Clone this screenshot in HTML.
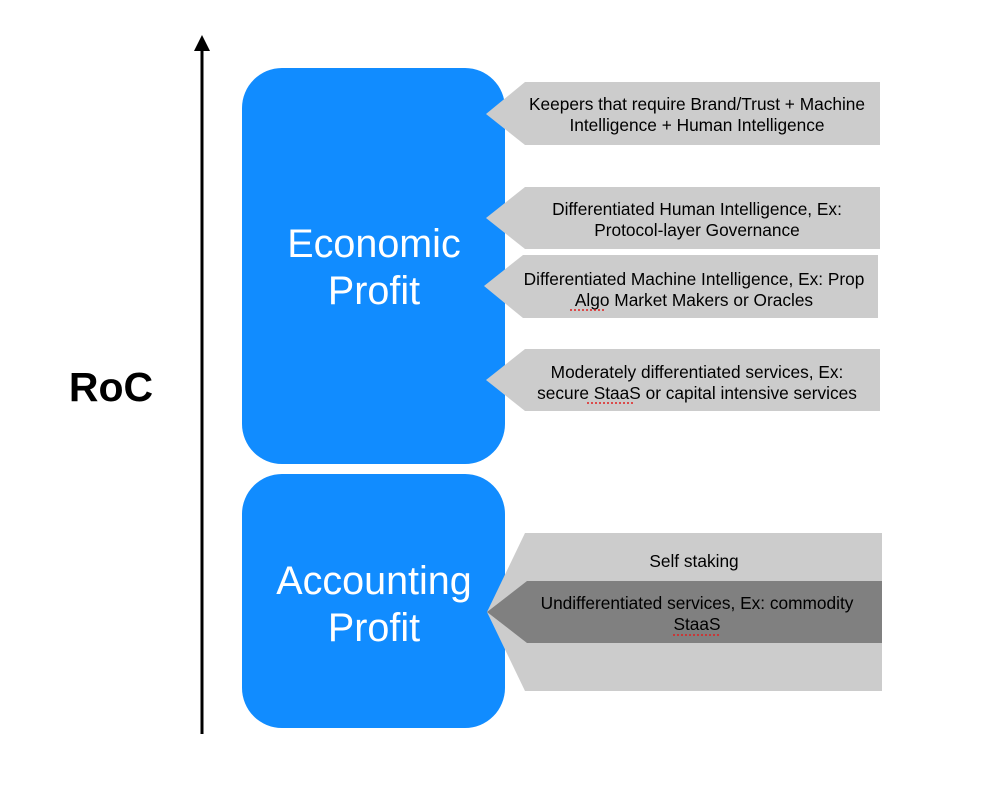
<!DOCTYPE html>
<html><head><meta charset="utf-8"><style>
html,body{margin:0;padding:0;background:#fff;}
svg{display:block;}
text{font-family:"Liberation Sans",Arial,sans-serif;}
</style></head><body>
<svg width="998" height="802" viewBox="0 0 998 802" xmlns="http://www.w3.org/2000/svg">
<rect width="998" height="802" fill="#fff"/>
<line x1="202" y1="48" x2="202" y2="734" stroke="#000" stroke-width="3"/>
<polygon points="202,35 194,51 210,51" fill="#000"/>
<text x="111" y="401" font-size="41" font-weight="bold" text-anchor="middle" fill="#000">RoC</text>
<rect x="242" y="68" width="263" height="396" rx="40" fill="#118cff"/>
<rect x="242" y="474" width="263" height="254" rx="40" fill="#118cff"/>
<g font-size="39.5" fill="#fff" text-anchor="middle">
<text x="374" y="257">Economic</text>
<text x="374" y="304">Profit</text>
<text x="374" y="594">Accounting</text>
<text x="374" y="641">Profit</text>
</g>
<g fill="#cccccc">
<polygon points="525,82 880,82 880,145 525,145 486,114"/>
<polygon points="525,187 880,187 880,249 525,249 486,218"/>
<polygon points="523,255 878,255 878,318 523,318 484,286"/>
<polygon points="525,349 880,349 880,411 525,411 486,380"/>
<polygon points="525,533 882,533 882,691 525,691 487,612"/>
</g>
<polygon points="527,581 882,581 882,643 527,643 487,612" fill="#808080"/>
<g font-size="17.3" fill="#000" text-anchor="middle">
<text x="697" y="110">Keepers that require Brand/Trust + Machine</text>
<text x="697" y="131">Intelligence + Human Intelligence</text>
<text x="697" y="215">Differentiated Human Intelligence, Ex:</text>
<text x="697" y="236">Protocol-layer Governance</text>
<text x="694" y="285">Differentiated Machine Intelligence, Ex: Prop</text>
<text x="694" y="306">Algo Market Makers or Oracles</text>
<text x="697" y="378">Moderately differentiated services, Ex:</text>
<text x="697" y="399">secure StaaS or capital intensive services</text>
<text x="694" y="567">Self staking</text>
<text x="697" y="609">Undifferentiated services, Ex: commodity</text>
<text x="697" y="630">StaaS</text>
</g>
<g stroke="#e02020" stroke-width="1.5" stroke-dasharray="2,2">
<line x1="570" y1="310" x2="604" y2="310"/>
<line x1="587" y1="403" x2="633" y2="403"/>
<line x1="673" y1="635" x2="720" y2="635"/>
</g>
</svg>
</body></html>
